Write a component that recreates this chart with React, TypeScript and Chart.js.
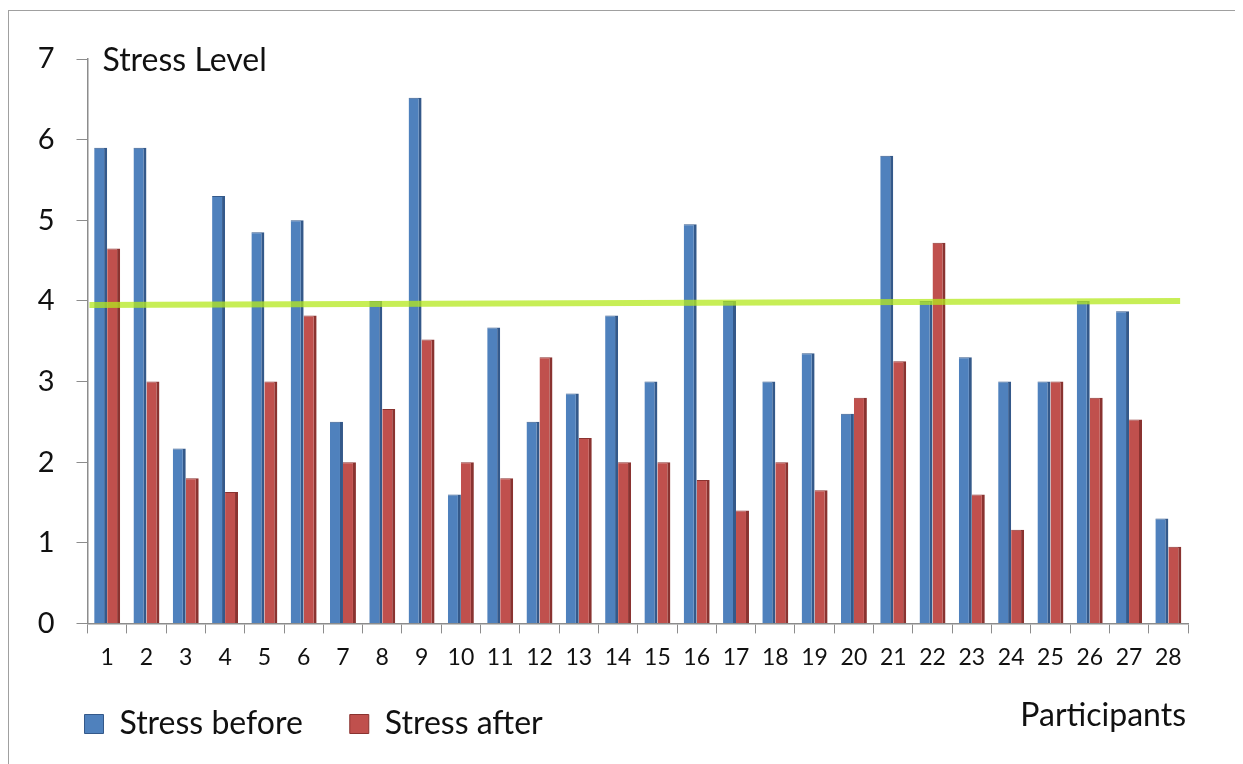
import React, { useEffect, useRef } from "react";
import { Chart, registerables } from "chart.js";

Chart.register(...registerables);

const participants = [
  "1", "2", "3", "4", "5", "6", "7", "8", "9", "10", "11", "12", "13", "14",
  "15", "16", "17", "18", "19", "20", "21", "22", "23", "24", "25", "26", "27", "28",
];
const stressBefore = [
  5.9, 5.9, 2.17, 5.3, 4.85, 5.0, 2.5, 4.0, 6.52, 1.6, 3.67, 2.5, 2.85, 3.82,
  3.0, 4.95, 4.0, 3.0, 3.35, 2.6, 5.8, 4.0, 3.3, 3.0, 3.0, 4.0, 3.87, 1.3,
];
const stressAfter = [
  4.65, 3.0, 1.8, 1.63, 3.0, 3.82, 2.0, 2.66, 3.52, 2.0, 1.8, 3.3, 2.3, 2.0,
  2.0, 1.78, 1.4, 2.0, 1.65, 2.8, 3.25, 4.72, 1.6, 1.16, 3.0, 2.8, 2.53, 0.95,
];
// threshold line: x in category-index units (-0.5 = left edge of axis)
const thresholdLine = [
  { x: -0.45, y: 3.95 },
  { x: 27.3, y: 4.0 },
];
const yTicks = [0, 1, 2, 3, 4, 5, 6, 7];

const FONT = "Lato, 'Open Sans', sans-serif";

const textPlugin = {
  id: "extraText",
  beforeDraw(chart: any) {
    // let axis labels extend beyond their (tightened) boxes without clipping
    const { x, y } = chart.scales;
    if (y) y.left = 0;
    if (x) x.bottom = chart.height;
  },
  afterDraw(chart: any) {
    const { ctx, chartArea } = chart;
    ctx.save();
    ctx.fillStyle = "#111";
    ctx.font = `32px ${FONT}`;
    ctx.textBaseline = "middle";
    ctx.textAlign = "left";
    ctx.fillText("Stress Level", chartArea.left + 15, chartArea.top + 2);
    const legend = chart.legend;
    const hb = legend && legend.legendHitBoxes && legend.legendHitBoxes[0];
    const ly = hb ? hb.top + hb.height / 2 : chartArea.bottom + 100;
    ctx.textAlign = "right";
    ctx.font = `32px ${FONT}`;
    ctx.fillText("Participants", chartArea.right - 2, ly - 8);
    ctx.restore();
  },
};

export default function App() {
  const ref = useRef<HTMLCanvasElement | null>(null);

  useEffect(() => {
    if (!ref.current) return;
    const chart = new Chart(ref.current, {
      type: "bar",
      data: {
        labels: participants,
        datasets: [
          {
            type: "line",
            label: "threshold",
            data: thresholdLine as any,
            parsing: false,
            borderColor: "rgba(180, 232, 30, 0.75)",
            borderWidth: 6,
            pointRadius: 0,
            fill: false,
            order: 0,
          } as any,
          {
            label: "Stress before",
            data: stressBefore,
            backgroundColor: "#4F81BD",
            borderColor: "#34598A",
            borderWidth: { right: 3, top: 1, left: 0, bottom: 0 },
            borderSkipped: false,
            categoryPercentage: 0.66,
            barPercentage: 1.0,
            order: 1,
          },
          {
            label: "Stress after",
            data: stressAfter,
            backgroundColor: "#C0504D",
            borderColor: "#8A3330",
            borderWidth: { right: 3, top: 1, left: 0, bottom: 0 },
            borderSkipped: false,
            categoryPercentage: 0.66,
            barPercentage: 1.0,
            order: 1,
          },
        ],
      },
      options: {
        animation: false,
        responsive: false,
        maintainAspectRatio: false,
        layout: { padding: { left: 28.5, right: 50, top: 48, bottom: 13 } },
        plugins: {
          tooltip: { enabled: false },
          legend: {
            position: "bottom",
            align: "start",
            labels: {
              filter: (item: any) => item.text !== "threshold",
              boxWidth: 19,
              boxHeight: 19,
              padding: 47,
              color: "#111",
              font: { family: FONT, size: 32 },
            },
          },
        },
        scales: {
          x: {
            type: "category",
            offset: true,
            grid: {
              display: true,
              drawOnChartArea: false,
              drawTicks: true,
              tickLength: 10,
              offset: true,
              color: "#8c8c8c",
            },
            border: { display: true, color: "#8c8c8c", width: 1.5 },
            ticks: {
              color: "#111",
              font: { family: FONT, size: 23 },
              padding: 10,
              maxRotation: 0,
              autoSkip: false,
            },
            afterFit: (axis: any) => {
              axis.height = 37.6;
            },
          },
          y: {
            min: 0,
            max: 7,
            afterBuildTicks: (axis: any) => {
              axis.ticks = yTicks.map((v) => ({ value: v }));
            },
            afterFit: (axis: any) => {
              axis.width = 50;
            },
            grid: {
              display: true,
              drawOnChartArea: false,
              drawTicks: true,
              tickLength: 11,
              color: "#8c8c8c",
            },
            border: { display: true, color: "#8c8c8c", width: 1.5 },
            ticks: {
              color: "#111",
              font: { family: FONT, size: 29 },
              padding: 22,
            },
          },
        },
      },
      plugins: [textPlugin],
    });
    return () => chart.destroy();
  }, []);

  return (
    <div
      style={{
        position: "relative",
        marginTop: 2,
        width: 1231,
        height: 760,
        border: "1.5px solid #a0a0a0",
        borderBottom: "none",
        boxSizing: "border-box",
        background: "#fff",
        overflow: "hidden",
      }}
    >
      <canvas ref={ref} width={1229} height={752} style={{ display: "block" }} />
    </div>
  );
}
